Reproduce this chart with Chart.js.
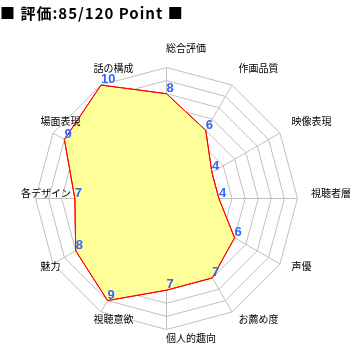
<!DOCTYPE html>
<html>
<head>
<meta charset="utf-8">
<script src="https://cdn.jsdelivr.net/npm/chart.js@4"></script>
<style>
  body { margin: 0; background: #fff; }
  #wrap { position: relative; width: 350px; height: 350px; }
  #title {
    position: absolute; left: 0; top: 4px;
    font: bold 15px "Noto Sans CJK JP", sans-serif;
    letter-spacing: 1px;
    color: #000; white-space: nowrap; line-height: 18px;
  }
  canvas { position: absolute; left: 0; top: 0; }
</style>
</head>
<body>
<div id="wrap">
  <canvas id="radar" width="350" height="350"></canvas>
  <div id="title">■ 評価:85/120 Point ■</div>
</div>
<script>
// axes, clockwise from the top
const categories = ['総合評価', '作画品質', '映像表現', '視聴者層', '声優', 'お薦め度',
                    '個人的趣向', '視聴意欲', '魅力', '各デザイン', '場面表現', '話の構成'];
const scores = [8, 6, 4, 4, 6, 7, 7, 9, 8, 7, 9, 10];
const scoreMax = 10;

// draws the axis names and the blue score numbers, and puts the red outline back on top of the grid
const labelPlugin = {
    id: 'radarLabels',
    beforeDraw(chart) {
        chart.ctx.save();
        chart.ctx.translate(0.5, 0.5);
    },
    afterDraw(chart) {
        const ctx = chart.ctx;
        const scale = chart.scales.r;
        const meta = chart.getDatasetMeta(0);
        meta.dataset.draw(ctx, chart.chartArea);

        ctx.textAlign = 'left';
        ctx.fillStyle = '#000';
        ctx.textBaseline = 'middle';
        ctx.font = '10px "Noto Sans CJK JP", sans-serif';
        categories.forEach((name, i) => {
            const p = scale.getPointPosition(i, scale.drawingArea + 14);
            ctx.fillText(name, p.x - 0.5, p.y - 5);
        });

        ctx.fillStyle = '#3366ff';
        ctx.textBaseline = 'bottom';
        ctx.font = 'bold 13px "Liberation Sans", sans-serif';
        meta.data.forEach((pt, i) => {
            ctx.fillText(String(scores[i]), pt.x, pt.y + 1);
        });
        ctx.restore();
    }
};

const ctx = document.getElementById('radar').getContext('2d');
const radarChart = new Chart(ctx, {
    type: 'radar',
    data: {
        labels: categories,
        datasets: [{
            data: scores,
            borderColor: '#ff0000',
            borderWidth: 1,
            backgroundColor: '#ffff99',
            fill: true,
            pointRadius: 0,
            tension: 0,
        }],
    },
    options: {
        responsive: false,
        animation: false,
        layout: {
            padding: { left: 35, right: 53, top: 67, bottom: 21 },
        },
        plugins: {
            legend: { display: false },
            tooltip: { enabled: false },
        },
        scales: {
            r: {
                min: 0,
                max: scoreMax,
                z: 1,
                ticks: { display: false, stepSize: 1 },
                grid: { color: '#c0c0c0', lineWidth: 1 },
                angleLines: { color: '#c0c0c0', lineWidth: 1 },
                pointLabels: { display: false },
            },
        },
    },
    plugins: [labelPlugin],
});
</script>
</body>
</html>
